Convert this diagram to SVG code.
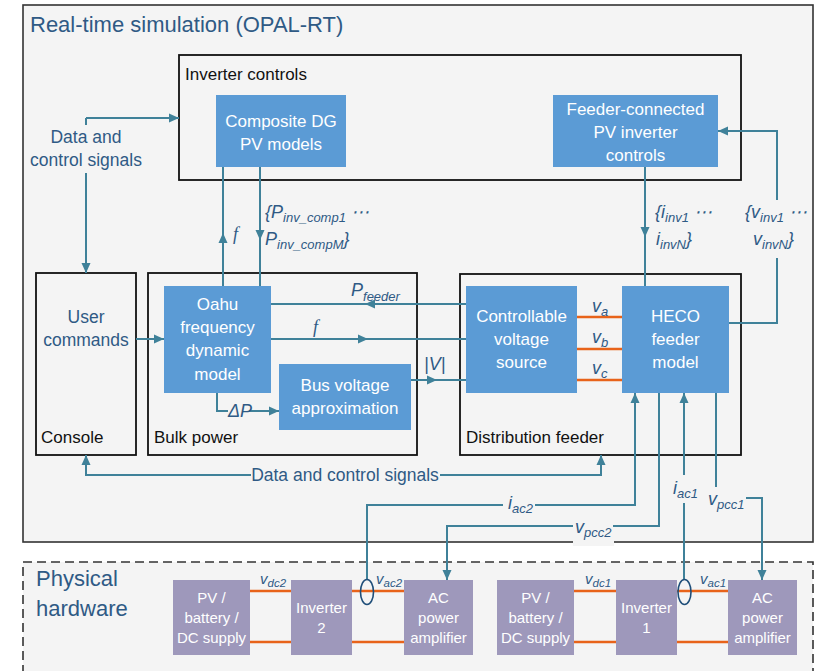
<svg xmlns="http://www.w3.org/2000/svg" width="816" height="671" viewBox="0 0 816 671">
<defs>
<marker id="ah" markerUnits="userSpaceOnUse" markerWidth="10" markerHeight="10" refX="10" refY="5" orient="auto"><path d="M0,0.5 L10,5 L0,9.5 z" fill="#3f8199"/></marker>
<style>
text{font-family:"Liberation Sans",Arial,sans-serif}
.frame{fill:#f4f4f4;stroke:#333;stroke-width:1.6}
.dash{fill:#f4f4f4;stroke:#333;stroke-width:1.6;stroke-dasharray:9,5}
.grp{fill:none;stroke:#111;stroke-width:1.8}
.blk{fill:#5b9bd5}
.hw{fill:#9e98bb}
.bt{fill:#fff;font-size:17px;text-anchor:middle}
.ht{fill:#fff;font-size:15px;text-anchor:middle}
.gl{fill:#111;font-size:17px}
.bl{fill:#2f5a85;font-size:17.5px}
.ttl{fill:#2f5a85;font-size:22px}
.m{fill:#2f5a85;font-size:18px;font-style:italic}
.ms{fill:#2f5a85;font-size:15px;font-style:italic}
.sub{font-size:13px}
.sub2{font-size:11.5px}
.c{fill:none;stroke:#3f8199;stroke-width:2}
.ca{fill:none;stroke:#3f8199;stroke-width:2;marker-end:url(#ah)}
.or{stroke:#e8631a;stroke-width:2.5}
.ring{fill:none;stroke:#1f4e79;stroke-width:1.6}
</style>
</defs>
<rect width="816" height="671" fill="#fff"/>
<g id="realtime">
<rect class="frame" x="23" y="5" width="790" height="537"/>
<text class="ttl" x="30" y="32">Real-time simulation (OPAL-RT)</text>
</g>
<g id="hardware">
<rect class="dash" x="23" y="562" width="790" height="120"/>
<text class="ttl" x="36" y="586">Physical</text>
<text class="ttl" x="36" y="616">hardware</text>
</g>
<g id="inverter-controls">
<rect class="grp" x="179" y="55" width="562" height="125"/>
<text class="gl" x="185" y="80">Inverter controls</text>
</g>
<g id="composite-dg">
<rect class="blk" x="216" y="95" width="130" height="72"/>
<text class="bt" x="281" y="127">Composite DG</text>
<text class="bt" x="281" y="150">PV models</text>
</g>
<g id="feeder-pv-controls">
<rect class="blk" x="553" y="95" width="165" height="72"/>
<text class="bt" x="635.5" y="115">Feeder-connected</text>
<text class="bt" x="635.5" y="138">PV inverter</text>
<text class="bt" x="635.5" y="161">controls</text>
</g>
<g id="console">
<rect class="grp" x="36" y="273" width="100" height="182"/>
<text class="bl" x="86" y="323" text-anchor="middle">User</text>
<text class="bl" x="86" y="346" text-anchor="middle">commands</text>
<text class="gl" x="41" y="443">Console</text>
</g>
<g id="bulk-power">
<rect class="grp" x="148" y="273" width="269" height="182"/>
<text class="gl" x="154" y="443">Bulk power</text>
</g>
<g id="oahu">
<rect class="blk" x="164" y="286" width="107" height="107"/>
<text class="bt" x="217.5" y="310">Oahu</text>
<text class="bt" x="217.5" y="333">frequency</text>
<text class="bt" x="217.5" y="356">dynamic</text>
<text class="bt" x="217.5" y="380">model</text>
</g>
<g id="bus-voltage">
<rect class="blk" x="279" y="364" width="132" height="66"/>
<text class="bt" x="345" y="391">Bus voltage</text>
<text class="bt" x="345" y="414">approximation</text>
</g>
<g id="distribution-feeder">
<rect class="grp" x="460" y="274" width="281" height="181"/>
<text class="gl" x="466" y="443">Distribution feeder</text>
</g>
<g id="cvs">
<rect class="blk" x="466" y="286" width="111" height="107"/>
<text class="bt" x="521.5" y="322">Controllable</text>
<text class="bt" x="521.5" y="345">voltage</text>
<text class="bt" x="521.5" y="368">source</text>
</g>
<g id="heco">
<rect class="blk" x="622" y="286" width="107" height="107"/>
<text class="bt" x="675.5" y="322">HECO</text>
<text class="bt" x="675.5" y="345">feeder</text>
<text class="bt" x="675.5" y="368">model</text>
</g>
<g id="pv2">
<rect class="hw" x="173" y="580" width="77" height="75"/>
<text class="ht" x="211.5" y="603">PV /</text>
<text class="ht" x="211.5" y="623">battery /</text>
<text class="ht" x="211.5" y="643">DC supply</text>
</g>
<g id="inverter2">
<rect class="hw" x="291" y="580" width="61" height="75"/>
<text class="ht" x="321.5" y="613">Inverter</text>
<text class="ht" x="321.5" y="633">2</text>
</g>
<g id="amp2">
<rect class="hw" x="404" y="580" width="69" height="75"/>
<text class="ht" x="438.5" y="603">AC</text>
<text class="ht" x="438.5" y="623">power</text>
<text class="ht" x="438.5" y="643">amplifier</text>
</g>
<g id="pv1">
<rect class="hw" x="497" y="580" width="77" height="75"/>
<text class="ht" x="535.5" y="603">PV /</text>
<text class="ht" x="535.5" y="623">battery /</text>
<text class="ht" x="535.5" y="643">DC supply</text>
</g>
<g id="inverter1">
<rect class="hw" x="616" y="580" width="61" height="75"/>
<text class="ht" x="646.5" y="613">Inverter</text>
<text class="ht" x="646.5" y="633">1</text>
</g>
<g id="amp1">
<rect class="hw" x="728" y="580" width="69" height="75"/>
<text class="ht" x="762.5" y="603">AC</text>
<text class="ht" x="762.5" y="623">power</text>
<text class="ht" x="762.5" y="643">amplifier</text>
</g>
<rect x="573" y="520" width="41" height="26" fill="#f4f4f4"/>
<g id="connectors">
<path class="c" d="M86,125 V118"/><path class="ca" d="M86,118 H179"/>
<path class="ca" d="M86,173 V273"/>
<path class="ca" d="M223,286 V233"/><path class="c" d="M223,234 V167"/>
<path class="ca" d="M260,167 V240"/><path class="c" d="M260,239 V286"/>
<path class="ca" d="M645,167 V237"/><path class="c" d="M645,236 V286"/>
<path class="c" d="M729,323 H777 V258"/><path class="ca" d="M777,200 V131 H718"/>
<path class="ca" d="M466,304 H365"/><path class="c" d="M366,304 H271"/>
<path class="ca" d="M271,339 H368"/><path class="c" d="M367,339 H466"/>
<path class="ca" d="M411,380 H437"/><path class="c" d="M436,380 H466"/>
<path class="ca" d="M136,339 H164"/>
<path class="c" d="M217,393 V411 H228"/><path class="ca" d="M249,411 H279"/>
<path class="ca" d="M251,475 H86 V455"/>
<path class="ca" d="M440,475 H601 V455"/>
<path class="c" d="M367,579 V505 H503"/><path class="ca" d="M535,505 H635 V393"/>
<path class="c" d="M659,393 V526 H613"/><path class="ca" d="M573,526 H447 V580"/>
<path class="c" d="M684,579 V503"/><path class="ca" d="M684,475 V393"/>
<path class="c" d="M716,393 V487"/><path class="ca" d="M746,498 H762 V580"/>
</g>
<g id="power-lines">
<line class="or" x1="577" y1="317" x2="622" y2="317"/>
<line class="or" x1="577" y1="349" x2="622" y2="349"/>
<line class="or" x1="577" y1="380" x2="622" y2="380"/>
<line class="or" x1="250" y1="591" x2="291" y2="591"/>
<line class="or" x1="250" y1="642" x2="291" y2="642"/>
<line class="or" x1="352" y1="591" x2="404" y2="591"/>
<line class="or" x1="352" y1="642" x2="404" y2="642"/>
<line class="or" x1="574" y1="591" x2="616" y2="591"/>
<line class="or" x1="574" y1="642" x2="616" y2="642"/>
<line class="or" x1="677" y1="591" x2="728" y2="591"/>
<line class="or" x1="677" y1="642" x2="728" y2="642"/>
<ellipse class="ring" cx="367" cy="592" rx="6.5" ry="12.5"/>
<ellipse class="ring" cx="684.5" cy="592" rx="6.5" ry="12.5"/>
</g>
<g id="labels">
<text class="bl" x="86" y="143" text-anchor="middle">Data and</text>
<text class="bl" x="86" y="166" text-anchor="middle">control signals</text>
<text class="bl" x="345" y="481" text-anchor="middle">Data and control signals</text>
<text class="m" x="233" y="240" style="font-family:'Liberation Serif',serif">f</text>
<text class="m" x="265" y="218">{P<tspan class="sub" dy="4">inv_comp1</tspan><tspan dy="-4"> ⋯</tspan></text>
<text class="m" x="265" y="245">P<tspan class="sub" dy="4">inv_compM</tspan><tspan dy="-4">}</tspan></text>
<text class="m" x="655" y="218">{i<tspan class="sub" dy="4">inv1</tspan><tspan dy="-4"> ⋯</tspan></text>
<text class="m" x="656" y="245">i<tspan class="sub" dy="4">invN</tspan><tspan dy="-4">}</tspan></text>
<text class="m" x="745" y="218">{v<tspan class="sub" dy="4">inv1</tspan><tspan dy="-4"> ⋯</tspan></text>
<text class="m" x="753" y="245">v<tspan class="sub" dy="4">invN</tspan><tspan dy="-4">}</tspan></text>
<text class="m" x="351" y="296">P<tspan class="sub" dy="5">feeder</tspan></text>
<text class="m" x="313" y="333" style="font-family:'Liberation Serif',serif">f</text>
<text class="m" x="424" y="370">|V|</text>
<text class="m" x="228" y="417">ΔP</text>
<text class="m" x="592" y="312">v<tspan class="sub" dy="4">a</tspan></text>
<text class="m" x="592" y="343">v<tspan class="sub" dy="4">b</tspan></text>
<text class="m" x="592" y="374">v<tspan class="sub" dy="4">c</tspan></text>
<text class="m" x="508" y="509">i<tspan class="sub" dy="4">ac2</tspan></text>
<text class="m" x="575" y="533">v<tspan class="sub" dy="4">pcc2</tspan></text>
<text class="m" x="673" y="494">i<tspan class="sub" dy="4">ac1</tspan></text>
<text class="m" x="708" y="505">v<tspan class="sub" dy="4">pcc1</tspan></text>
<text class="ms" x="260" y="584">v<tspan class="sub2" dy="3">dc2</tspan></text>
<text class="ms" x="376" y="584">v<tspan class="sub2" dy="3">ac2</tspan></text>
<text class="ms" x="585" y="584">v<tspan class="sub2" dy="3">dc1</tspan></text>
<text class="ms" x="700" y="584">v<tspan class="sub2" dy="3">ac1</tspan></text>
</g>
</svg>
